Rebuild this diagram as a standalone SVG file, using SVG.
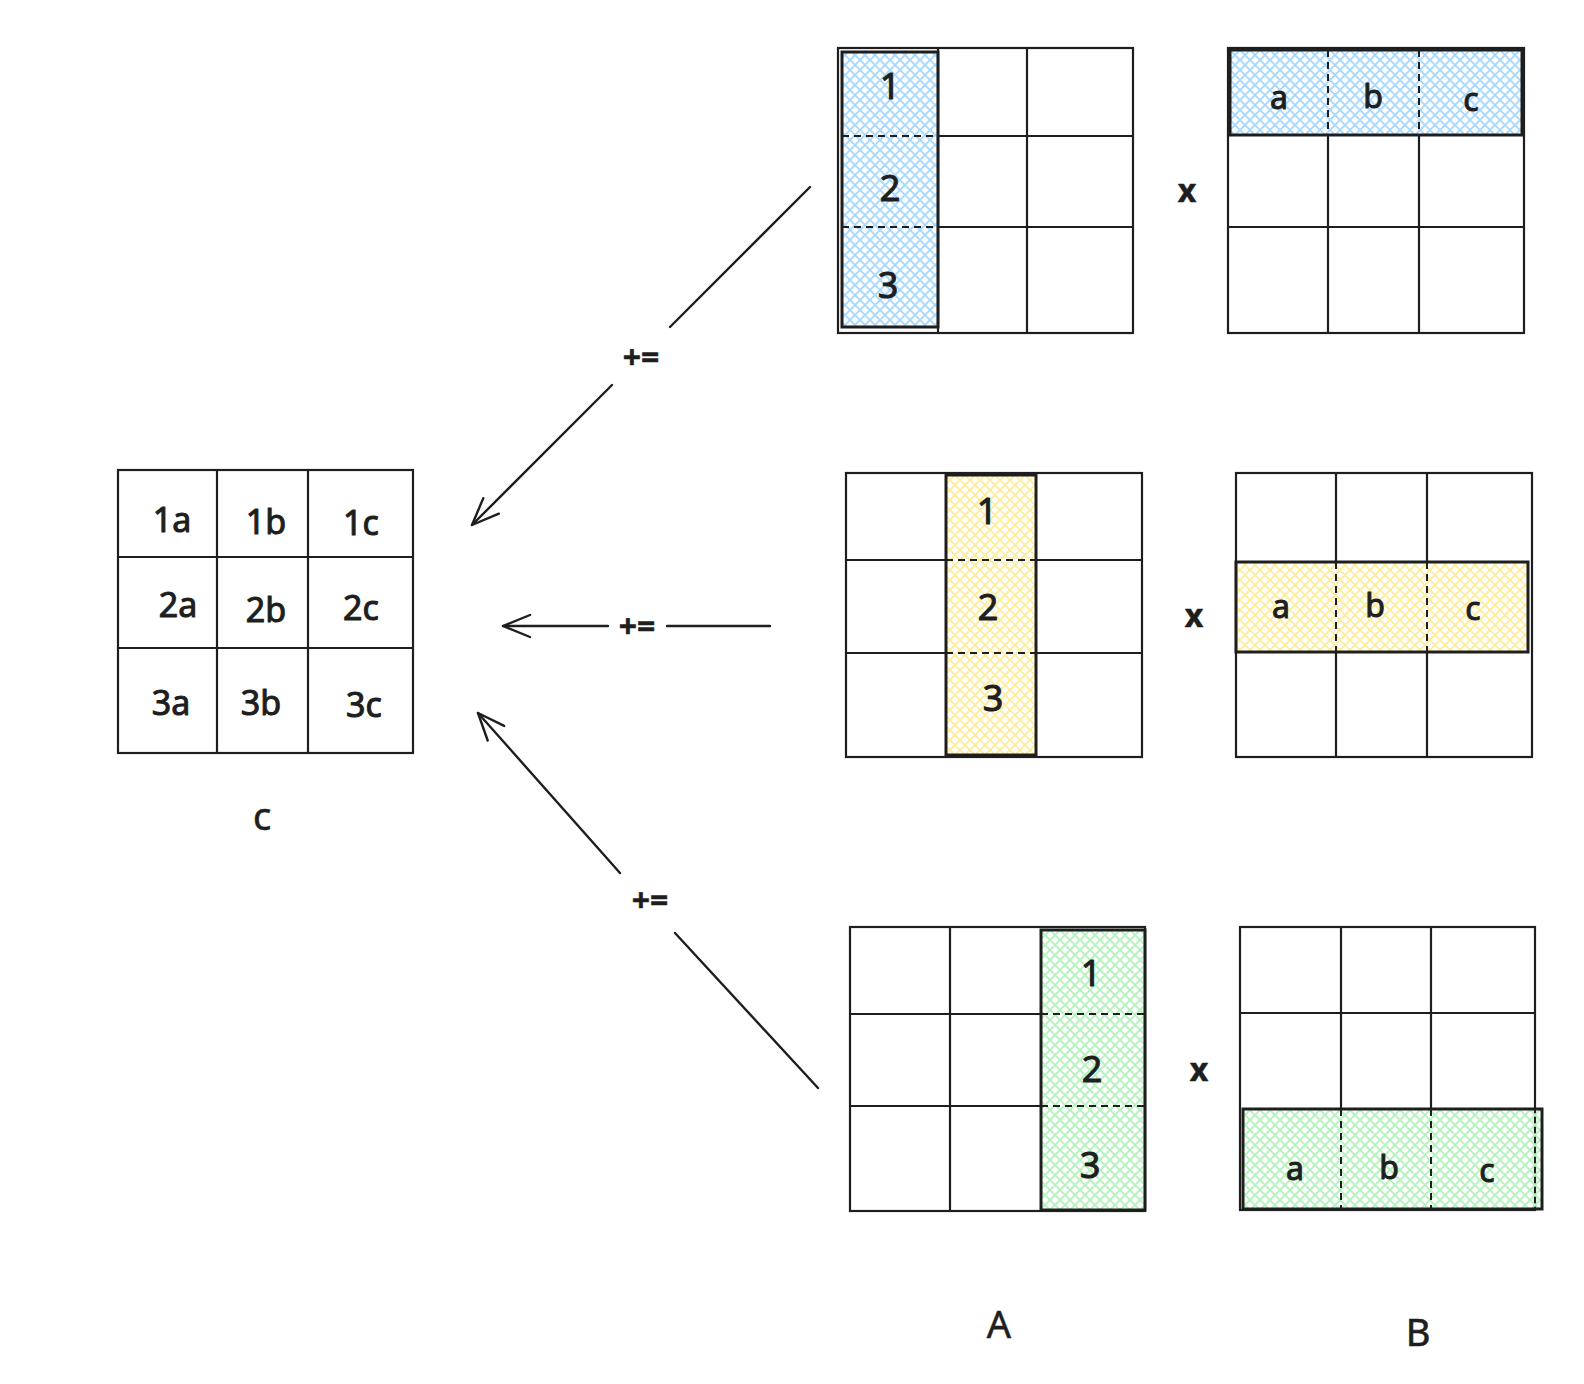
<svg xmlns="http://www.w3.org/2000/svg" width="1584" height="1384" viewBox="0 0 1584 1384">
<defs>
  <pattern id="hb" patternUnits="userSpaceOnUse" width="10" height="10">
    <path d="M0,0 L10,10 M10,0 L0,10" stroke="#a5d8ff" stroke-width="1.8"/>
  </pattern>
  <pattern id="hy" patternUnits="userSpaceOnUse" width="10" height="10">
    <path d="M0,0 L10,10 M10,0 L0,10" stroke="#ffec99" stroke-width="1.8"/>
  </pattern>
  <pattern id="hg" patternUnits="userSpaceOnUse" width="10" height="10">
    <path d="M0,0 L10,10 M10,0 L0,10" stroke="#b2f2bb" stroke-width="1.8"/>
  </pattern>
  <marker id="arr" markerUnits="userSpaceOnUse" orient="auto" overflow="visible" markerWidth="1" markerHeight="1" refX="0" refY="0">
    <path d="M-27,-11 L0,0 L-27,11" fill="none" stroke="#1e1e1e" stroke-width="2.4" stroke-linecap="round" stroke-linejoin="round"/>
  </marker>
</defs>
<style>
  .grid { fill: none; stroke: #1e1e1e; stroke-width: 2.2; stroke-linecap: round; }
  .hl { stroke: #1e1e1e; stroke-width: 3; }
  .dash { fill: none; stroke: #1e1e1e; stroke-width: 2; stroke-dasharray: 7 5; }
  .conn { fill: none; stroke: #1e1e1e; stroke-width: 2.4; stroke-linecap: round; }
  text { font-family: "Noto Sans", "DejaVu Sans", sans-serif; fill: #1e1e1e; stroke: #1e1e1e; stroke-width: 1; stroke-linejoin: round; text-anchor: middle; dominant-baseline: central; }
  .cell { font-size: 34px; }
  .num { font-size: 36px; }
  .let { font-size: 32px; }
  .op { font-size: 32px; font-weight: bold; stroke-width: 0.5; }
  .lbl { font-size: 38px; stroke-width: 0.6; }
</style>
<rect width="1584" height="1384" fill="#ffffff"/>

<g id="matrix-C">
  <rect class="grid" x="118" y="470" width="295" height="283"/>
  <path class="grid" d="M217,470 V753 M308,470 V753 M118,557 H413 M118,648 H413"/>
  <text class="cell" x="172" y="519">1a</text>
  <text class="cell" x="266" y="521">1b</text>
  <text class="cell" x="361" y="522">1c</text>
  <text class="cell" x="178" y="604">2a</text>
  <text class="cell" x="266" y="609">2b</text>
  <text class="cell" x="361" y="607">2c</text>
  <text class="cell" x="171" y="702">3a</text>
  <text class="cell" x="261" y="702">3b</text>
  <text class="cell" x="364" y="704">3c</text>
  <text class="lbl" x="262" y="815">c</text>
</g>

<g id="matrix-A1">
  <rect class="grid" x="838" y="48" width="295" height="285"/>
  <path class="grid" d="M938,48 V333 M1027,48 V333 M938,136 H1133 M938,227 H1133"/>
  <rect class="hl" x="842" y="52" width="96" height="275" fill="url(#hb)"/>
  <path class="dash" d="M842,136 H938 M842,227 H938"/>
  <text class="num" x="890" y="85">1</text>
  <text class="num" x="890" y="187">2</text>
  <text class="num" x="888" y="284">3</text>
</g>

<g id="op1"><text class="op" x="1187" y="189">x</text></g>

<g id="matrix-B1">
  <rect class="grid" x="1228" y="48" width="296" height="285"/>
  <path class="grid" d="M1328,135 V333 M1419,135 V333 M1228,227 H1524"/>
  <rect class="hl" x="1230" y="50" width="292" height="85" fill="url(#hb)"/>
  <path class="dash" d="M1328,50 V135 M1419,50 V135"/>
  <text class="let" x="1279" y="96">a</text>
  <text class="let" x="1373" y="95">b</text>
  <text class="let" x="1471" y="98">c</text>
</g>

<g id="matrix-A2">
  <rect class="grid" x="846" y="473" width="296" height="284"/>
  <path class="grid" d="M846,560 H946 M1036,560 H1142 M846,653 H946 M1036,653 H1142"/>
  <rect class="hl" x="946" y="475" width="90" height="280" fill="url(#hy)"/>
  <path class="dash" d="M946,560 H1036 M946,653 H1036"/>
  <text class="num" x="987" y="510">1</text>
  <text class="num" x="988" y="606">2</text>
  <text class="num" x="993" y="697">3</text>
</g>

<g id="op2"><text class="op" x="1194" y="614">x</text></g>

<g id="matrix-B2">
  <rect class="grid" x="1236" y="473" width="296" height="284"/>
  <path class="grid" d="M1336,473 V562 M1427,473 V562 M1336,652 V757 M1427,652 V757"/>
  <rect class="hl" x="1236" y="562" width="292" height="90" fill="url(#hy)"/>
  <path class="dash" d="M1336,562 V652 M1427,562 V652"/>
  <text class="let" x="1281" y="605">a</text>
  <text class="let" x="1375" y="604">b</text>
  <text class="let" x="1473" y="607">c</text>
</g>

<g id="matrix-A3">
  <rect class="grid" x="850" y="927" width="295" height="284"/>
  <path class="grid" d="M950,927 V1211 M850,1014 H1041 M850,1106 H1041"/>
  <rect class="hl" x="1041" y="930" width="104" height="280" fill="url(#hg)"/>
  <path class="dash" d="M1041,1014 H1145 M1041,1106 H1145"/>
  <text class="num" x="1091" y="972">1</text>
  <text class="num" x="1092" y="1068">2</text>
  <text class="num" x="1090" y="1164">3</text>
</g>

<g id="op3"><text class="op" x="1199" y="1068">x</text></g>

<g id="matrix-B3">
  <rect class="grid" x="1240" y="927" width="295" height="283"/>
  <path class="grid" d="M1341,927 V1109 M1431,927 V1109 M1240,1013 H1535"/>
  <rect class="hl" x="1243" y="1109" width="299" height="100" fill="url(#hg)"/>
  <path class="dash" d="M1341,1109 V1209 M1431,1109 V1209"/>
  <text class="let" x="1295" y="1167">a</text>
  <text class="let" x="1389" y="1166">b</text>
  <text class="let" x="1487" y="1169">c</text>
</g>

<g id="label-A"><text class="lbl" x="999" y="1323">A</text></g>
<g id="label-B"><text class="lbl" x="1418" y="1331">B</text></g>

<g id="connectors">
  <path class="conn" d="M810,187 L670,327"/>
  <path class="conn" d="M612,385 L472,525" marker-end="url(#arr)"/>
  <text class="op" x="641" y="356">+=</text>

  <path class="conn" d="M770,626 L667,626"/>
  <path class="conn" d="M608,626 L503,626" marker-end="url(#arr)"/>
  <text class="op" x="637" y="625">+=</text>

  <path class="conn" d="M818,1088 L675,933"/>
  <path class="conn" d="M620,873 L478,713" marker-end="url(#arr)"/>
  <text class="op" x="650" y="899">+=</text>
</g>
</svg>
